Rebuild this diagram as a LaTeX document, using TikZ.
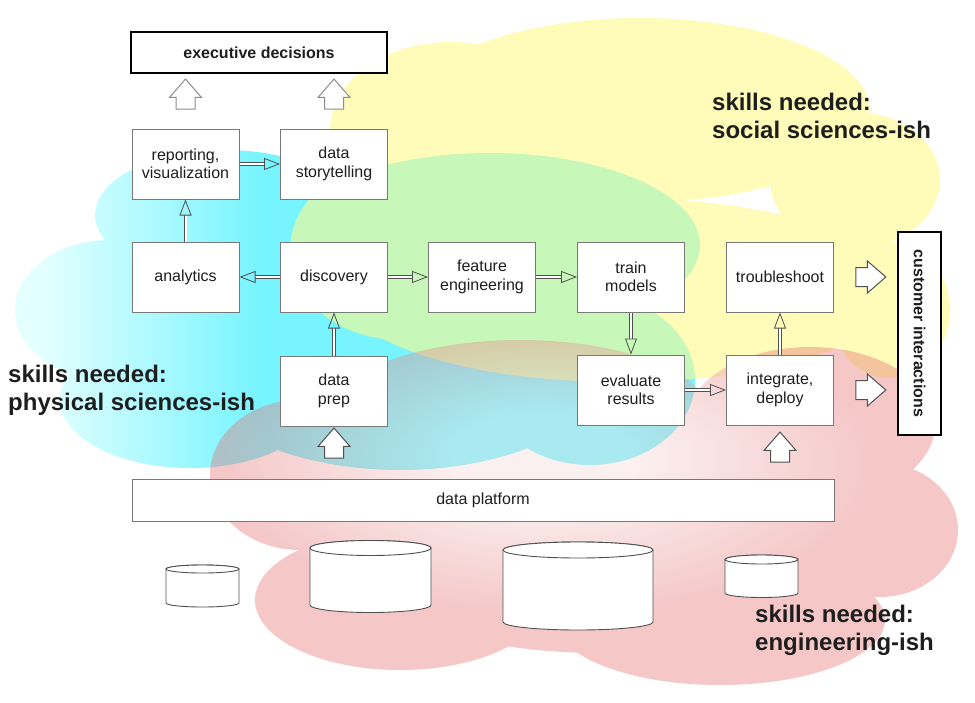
\documentclass[tikz,border=0pt]{standalone}
\usepackage{fontspec}
\setmainfont{Liberation Sans}
\usetikzlibrary{arrows.meta,shapes.arrows,calc}

\definecolor{cyanC}{RGB}{118,244,255}
\definecolor{cyanL}{RGB}{228,255,255}
\definecolor{yelC}{RGB}{255,250,140}
\definecolor{pinkC}{RGB}{229,115,115}
\definecolor{pinkM}{RGB}{237,160,160}
\definecolor{pinkL}{RGB}{246,218,218}
\definecolor{boxgray}{RGB}{120,120,120}
\definecolor{arrgray}{RGB}{80,80,80}
\definecolor{lightarr}{RGB}{140,140,140}
\definecolor{txt}{RGB}{30,30,30}

\pgfdeclarehorizontalshading{cyanshade}{100bp}{color(0bp)=(cyanL); color(27bp)=(cyanL); color(43bp)=(cyanC); color(100bp)=(cyanC)}
\pgfdeclareradialshading{pinkshade}{\pgfpoint{-3bp}{9bp}}{color(0bp)=(pinkL); color(6bp)=(pinkL); color(22bp)=(pinkC); color(40bp)=(pinkC); color(50bp)=(pinkM); color(100bp)=(pinkM)}

\newcommand\mycyl[5]{% cx, rx, ry, ytop, ybot
  \filldraw[cylsty] (#1-#2,#4) -- (#1-#2,#5)
    arc[start angle=180, end angle=0, x radius=#2, y radius=#3]
    -- (#1+#2,#4)
    arc[start angle=0, end angle=-180, x radius=#2, y radius=#3] -- cycle;
  \draw[cylsty] (#1,#4) ellipse[x radius=#2, y radius=#3];}

\begin{document}
\begin{tikzpicture}[x=1pt,y=-1pt,
  box/.style={draw=boxgray, fill=white, line width=1pt, minimum width=107, minimum height=70,
    align=center, inner sep=1pt, text=txt, font=\fontsize{16}{18.5}\selectfont},
  thickbox/.style={draw=black, fill=white, line width=2.6pt, inner sep=0pt, text=txt,
    font=\bfseries\fontsize{16}{18}\selectfont},
  platform/.style={draw=boxgray, fill=white, line width=1pt, minimum width=702, minimum height=42,
    text=txt, font=\fontsize{16}{18}\selectfont},
  blockarrow/.style={single arrow, draw=arrgray, fill=white, line width=1pt, inner sep=9pt,
    minimum height=30, minimum width=31, single arrow head extend=6.5pt, single arrow tip angle=82},
  lightblock/.style={blockarrow, draw=lightarr},
  dbl/.style={draw=arrgray, line width=0.8pt, double=white, double distance=2pt,
    -{Triangle[open, length=16pt, width=12pt, line width=0.8pt]}},
  skills/.style={align=left, inner sep=0pt, anchor=base west, text=txt,
    font=\bfseries\fontsize{24}{28}\selectfont},
  cylsty/.style={draw=arrgray, fill=white, line width=0.9pt}
]
\useasboundingbox (0,0) rectangle (975,702);

% ---------- clouds ----------
\shade[shading=cyanshade]
  (110,310) ellipse[x radius=95, y radius=70]
  (225,215) ellipse[x radius=130, y radius=65]
  (190,400) ellipse[x radius=130, y radius=68]
  (400,340) ellipse[x radius=230, y radius=130]
  (490,245) ellipse[x radius=210, y radius=92]
  (590,380) ellipse[x radius=105, y radius=85];
\fill[yelC, fill opacity=0.6]
  (640,110) ellipse[x radius=230, y radius=92]
  (450,130) ellipse[x radius=120, y radius=88]
  (530,190) ellipse[x radius=130, y radius=62]
  (855,180) ellipse[x radius=85, y radius=68]
  (890,310) ellipse[x radius=60, y radius=68]
  (400,250) ellipse[x radius=110, y radius=90]
  (620,290) ellipse[x radius=280, y radius=92];
\shade[shading=pinkshade, opacity=0.4]
  (520,415) ellipse[x radius=190, y radius=75]
  (300,475) ellipse[x radius=90, y radius=75]
  (380,480) ellipse[x radius=80, y radius=40]
  (810,425) ellipse[x radius=125, y radius=78]
  (880,530) ellipse[x radius=78, y radius=67]
  (600,545) ellipse[x radius=265, y radius=108]
  (720,620) ellipse[x radius=165, y radius=65]
  (400,600) ellipse[x radius=145, y radius=70];

% ---------- skills labels ----------
\node[skills] (phys) at (8,410) {skills needed:\\physical sciences-ish};
\node[skills] (soc) at (712,138) {skills needed:\\social sciences-ish};
\node[skills] (eng) at (755,650) {skills needed:\\engineering-ish};

% ---------- boxes ----------
\node[thickbox, minimum width=256, minimum height=41] (exec) at (259,52.5) {executive decisions};
\node[thickbox, minimum width=43, minimum height=203] (cust) at (919.5,333.5) {\rotatebox{-90}{customer interactions}};

\node[box] (rep)     at (185.5,164) {reporting,\\visualization};
\node[box] (story)   at (334,164)   {data\\storytelling};
\node[box] (ana)     at (185.5,277) {analytics};
\node[box] (disc)    at (334,277)   {discovery};
\node[box] (feat)    at (482,277)   {feature\\engineering};
\node[box] (train)   at (631,277)   {train\\models};
\node[box] (trouble) at (780,277)   {troubleshoot};
\node[box] (prep)    at (334,391)   {data\\prep};
\node[box] (eval)    at (631,390)   {evaluate\\results};
\node[box] (integ)   at (780,390)   {integrate,\\deploy};

\node[platform] (plat) at (483,500) {data platform};

% ---------- double-line arrows ----------
\draw[dbl] (rep) -- (story);
\draw[dbl] (ana) -- (rep);
\draw[dbl] (disc) -- (ana);
\draw[dbl] (prep) -- (disc);
\draw[dbl] (disc) -- (feat);
\draw[dbl] (feat) -- (train);
\draw[dbl] (train) -- (eval);
\draw[dbl] (eval) -- (integ);
\draw[dbl] (integ) -- (trouble);

% ---------- block arrows ----------
\node[lightblock, shape border rotate=90] (ua1) at ($(rep.north)+(0,-29)$) {};
\node[lightblock, shape border rotate=90] (ua2) at ($(story.north)+(0,-29)$) {};
\node[blockarrow, shape border rotate=90] (ua3) at ($(prep.south)+(0,22)$) {};
\node[blockarrow, shape border rotate=90] (ua4) at ($(integ.south)+(0,27)$) {};
\node[blockarrow] (ra1) at ($(trouble.east)!0.5!(trouble.east -| cust.west)$) {};
\node[blockarrow] (ra2) at ($(integ.east)!0.5!(integ.east -| cust.west)$) {};

% ---------- databases ----------
\mycyl{202.5}{36.5}{4}{569}{603}
\mycyl{370.5}{60.5}{7.5}{548}{605}
\mycyl{578}{75}{8}{550}{622}
\mycyl{761.5}{36.5}{4.5}{559.5}{593}
\end{tikzpicture}
\end{document}
